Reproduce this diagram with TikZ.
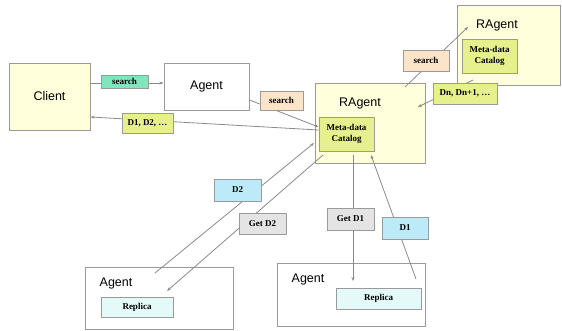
\documentclass[tikz,border=0pt]{standalone}
\usepackage{fontspec}
\setmainfont{Liberation Serif}
\newfontfamily\arialfont{Liberation Sans}
\usetikzlibrary{arrows.meta}
\definecolor{cream}{HTML}{FFFFDC}
\definecolor{catfill}{HTML}{E6F08C}
\definecolor{srchgreen}{HTML}{80E6BE}
\definecolor{srchpeach}{HTML}{FCE4C8}
\definecolor{dblue}{HTML}{BCEAF8}
\definecolor{getgray}{HTML}{E4E4E4}
\definecolor{repfill}{HTML}{E4FAF8}
\definecolor{edge}{HTML}{9A9A9A}
\definecolor{wire}{HTML}{8A8A8A}
\begin{document}
\begin{tikzpicture}
    [x=1pt,y=-1pt,%%%%%%%%%%%%%%%%%%%%%%%%%%%%%%
        box/.style={rectangle,draw=edge,line width=1pt,inner sep=0pt},
        title/.style={font=\arialfont\fontsize{12.5}{14}\selectfont},
        tag/.style={rectangle,draw=edge,line width=0.9pt,inner sep=0pt,
            font=\bfseries\fontsize{9}{10}\selectfont},
        wire/.style={draw=wire,line width=0.8pt},
        arr/.style={wire,-{Stealth[length=4pt,width=3pt]}},
    ]%%%%%%%%%%%%%%%%%%%%%%%%%%%%%%

\useasboundingbox (0,0) rectangle (562,330);

% boxes
\node[box,fill=cream,minimum width=81,minimum height=67,title] (client) at (49.5,96.5){Client};
\node[box,fill=white,minimum width=85,minimum height=47,title] (agent) at (206.5,86.5){Agent};
\node[box,fill=cream,minimum width=110,minimum height=80] (ragent) at (370,123){};
\node[title] (ragentT) at (360,103){RAgent};
\node[box,fill=catfill,minimum width=55,minimum height=34,align=center,
      font=\bfseries\fontsize{9}{11}\selectfont] (cat) at (346.5,134){Meta-data\\Catalog};
\node[box,fill=cream,minimum width=103,minimum height=80] (rtop) at (509,45){};
\node[title] (rtopT) at (497,25){RAgent};
\node[box,fill=catfill,minimum width=55,minimum height=34,align=center,
      font=\bfseries\fontsize{9}{11}\selectfont] (cattop) at (489.5,56){Meta-data\\Catalog};
\node[box,fill=white,minimum width=148,minimum height=62] (agentL) at (159,298){};
\node[title] (agentLT) at (116,283){Agent};
\node[box,fill=repfill,minimum width=72,minimum height=20,
      font=\bfseries\fontsize{9}{10}\selectfont] (repL) at (137,307){Replica};
\node[box,fill=white,minimum width=148,minimum height=63] (agentR) at (351,294.5){};
\node[title] (agentRT) at (308,279){Agent};
\node[box,fill=repfill,minimum width=85,minimum height=21,
      font=\bfseries\fontsize{9}{10}\selectfont] (repR) at (378.5,298.5){Replica};

% free ends inside the boxes
\coordinate (upS) at (405,87);
\coordinate (upE) at (468,27);
\coordinate (dnS) at (473,80);
\coordinate (dnE) at (418,107);
\coordinate (d2S) at (155,273);
\coordinate (d2E) at (314,143);
\coordinate (g2S) at (323,155);
\coordinate (g2E) at (167,291);
\coordinate (g1S) at (353,155);
\coordinate (g1E) at (353,281);
\coordinate (d1S) at (416,279);
\coordinate (d1E) at (371,155);

% connectors
\draw[arr] (client.east |- 0,83) -- (agent.west |- 0,83);
\draw[arr] ([yshift=-13.5pt]agent.east) -- ([yshift=7pt]cat.west);
\draw[arr] ([yshift=4pt]cat.west) -- ([yshift=-20.5pt]client.east);
\draw[arr] (upS) -- (upE);
\draw[arr] (dnS) -- (dnE);
\draw[arr] (d2S) -- (d2E);
\draw[arr] (g2S) -- (g2E);
\draw[arr] (g1S) -- (g1E);
\draw[arr] (d1S) -- (d1E);

% labels
\node[tag,fill=srchgreen,minimum width=47,minimum height=13] (s1) at (124.5,81.5){search};
\node[tag,fill=srchpeach,minimum width=43,minimum height=19] (s2) at (281.5,100.5){search};
\node[tag,fill=catfill,minimum width=51,minimum height=20] (dd) at (147.5,123){D1, D2, \dots};
\node[tag,fill=srchpeach,minimum width=46,minimum height=21] (s3) at (426,60.5){search};
\node[tag,fill=catfill,minimum width=64,minimum height=21] (dn) at (465,93.5){Dn, Dn+1, \dots};
\node[tag,fill=dblue,minimum width=47,minimum height=22] (d2) at (237.5,190){D2};
\node[tag,fill=getgray,minimum width=47,minimum height=21] (g2) at (262.5,223.5){Get D2};
\node[tag,fill=getgray,minimum width=47,minimum height=22] (g1) at (350.5,219){Get D1};
\node[tag,fill=dblue,minimum width=46,minimum height=22] (d1) at (405,228){D1};
\end{tikzpicture}
\end{document}
